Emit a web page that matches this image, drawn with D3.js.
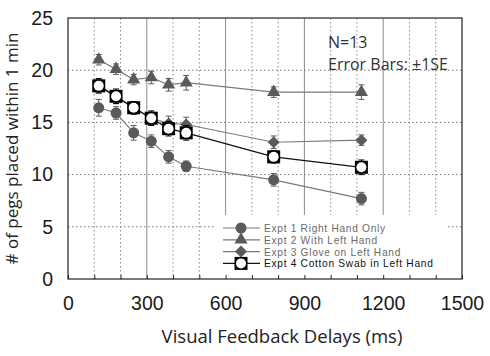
<!DOCTYPE html>
<html>
<head>
<meta charset="utf-8">
<script src="https://cdn.jsdelivr.net/npm/d3@7"></script>
<style>
  html, body { margin: 0; padding: 0; background: #fff; }
  svg { display: block; font-family: "Open Sans", "DejaVu Sans", sans-serif; }
</style>
</head>
<body>
<div id="chart"></div>
<script>
// Pegs placed within 1 min vs visual feedback delay, four experiments, ±1SE bars.
const delays = [117, 183, 250, 317, 383, 450, 783, 1117];
const expt1 = [16.4, 15.9, 14.0, 13.2, 11.7, 10.8, 9.5, 7.7];
const expt2 = [21.0, 20.1, 19.1, 19.3, 18.6, 18.8, 17.9, 17.9];
const expt3 = [18.5, 17.4, 16.4, 15.4, 14.9, 14.8, 13.1, 13.3];
const expt4 = [18.5, 17.5, 16.4, 15.4, 14.4, 14.0, 11.7, 10.7];
const se1 = [0.8, 0.6, 0.7, 0.6, 0.6, 0.5, 0.6, 0.6];
const se2 = [0.5, 0.5, 0.5, 0.6, 0.6, 0.7, 0.5, 0.7];
const se3 = [0.6, 0.6, 0.6, 0.6, 0.7, 0.7, 0.6, 0.5];
const se4 = [0.7, 0.7, 0.6, 0.7, 0.7, 0.7, 0.6, 0.7];
const seriesNames = ["Expt 1 Right Hand Only", "Expt 2 With Left Hand", "Expt 3 Glove on Left Hand", "Expt 4 Cotton Swab in Left Hand"];
const xTicks = [0, 300, 600, 900, 1200, 1500];
const yTicks = [0, 5, 10, 15, 20, 25];

const W = 490, H = 356;
const margin = { top: 18, right: 28, bottom: 77, left: 68 };

const svg = d3.select("#chart").append("svg").attr("width", W).attr("height", H);

const x = d3.scaleLinear().domain([0, 1500]).range([margin.left, W - margin.right]);
const y = d3.scaleLinear().domain([0, 25]).range([H - margin.bottom, margin.top]);

const series = [
  { name: seriesNames[0], vals: expt1, se: se1, shape: "circle", line: "#7a7a7a", fill: "#5a5a5a", text: "#6a6a6a" },
  { name: seriesNames[1], vals: expt2, se: se2, shape: "triangle", line: "#7a7a7a", fill: "#5a5a5a", text: "#6a6a6a" },
  { name: seriesNames[2], vals: expt3, se: se3, shape: "diamond", line: "#7a7a7a", fill: "#5a5a5a", text: "#6a6a6a" },
  { name: seriesNames[3], vals: expt4, se: se4, shape: "square", line: "#111", fill: "#000", text: "#111" }
];

// Grid: dotted every 100 ms, solid at majors, dotted horizontals
const g = svg.append("g");
g.selectAll("line.minor").data(d3.range(100, 1500, 100).filter(v => v % 300 !== 0)).join("line")
  .attr("x1", d => x(d)).attr("x2", d => x(d))
  .attr("y1", y(25)).attr("y2", y(0))
  .attr("stroke", "#888").attr("stroke-width", 1).attr("stroke-dasharray", "1.5,2.5");
g.selectAll("line.major").data(xTicks.slice(1, -1)).join("line").attr("class", "major")
  .attr("x1", d => x(d)).attr("x2", d => x(d))
  .attr("y1", y(25)).attr("y2", y(0))
  .attr("stroke", "#8a8a8a").attr("stroke-width", 1);
g.selectAll("line.hgrid").data(yTicks.slice(1, -1)).join("line").attr("class", "hgrid")
  .attr("x1", x(0)).attr("x2", x(1500))
  .attr("y1", d => y(d)).attr("y2", d => y(d))
  .attr("stroke", "#777").attr("stroke-width", 1).attr("stroke-dasharray", "1.5,2.5");

// Legend background (covers grid)
const lg = { x: 215, y: 215, w: 233, h: 64, row: 11.8 };
svg.append("rect").attr("x", lg.x).attr("y", lg.y).attr("width", lg.w).attr("height", lg.h).attr("fill", "#fff");

// Axes
const xAxis = svg.append("g").attr("transform", `translate(0,${y(0)})`)
  .call(d3.axisBottom(x).tickValues(d3.range(0, 1501, 100)).tickSize(-4).tickFormat(""));
xAxis.select(".domain").remove();
xAxis.selectAll("line").attr("stroke", "#222");
svg.append("g").attr("transform", `translate(0,${y(0)})`)
  .call(d3.axisBottom(x).tickValues(xTicks).tickSize(0).tickPadding(17).tickFormat(d3.format("d")))
  .call(a => a.select(".domain").remove())
  .selectAll("text").attr("font-size", 19.5).attr("font-family", "'Liberation Sans', Arial, sans-serif").attr("fill", "#1a1a1a");
svg.append("g").attr("transform", `translate(${x(0)},0)`)
  .call(d3.axisLeft(y).tickValues(yTicks).tickSize(0).tickPadding(15))
  .call(a => a.select(".domain").remove())
  .selectAll("text").attr("font-size", 19.5).attr("font-family", "'Liberation Sans', Arial, sans-serif").attr("fill", "#1a1a1a");
svg.append("rect").attr("x", x(0)).attr("y", y(25)).attr("width", x(1500) - x(0)).attr("height", y(0) - y(25))
  .attr("fill", "none").attr("stroke", "#222").attr("stroke-width", 1.2);

// Axis titles
svg.append("text").attr("x", 282).attr("y", 343).attr("text-anchor", "middle")
  .attr("font-size", 18.5).attr("fill", "#222").text("Visual Feedback Delays (ms)");
svg.append("text").attr("transform", `translate(18,${(y(0) + y(25)) / 2}) rotate(-90)`)
  .attr("text-anchor", "middle").attr("font-size", 17).attr("fill", "#222").text("# of pegs placed within 1 min");

// Annotations
svg.append("text").attr("x", 328).attr("y", 48).attr("font-size", 16).attr("fill", "#333").text("N=13");
svg.append("text").attr("x", 328).attr("y", 70).attr("font-size", 16).attr("fill", "#333").text("Error Bars: ±1SE");

function marker(sel, s) {
  if (s.shape === "circle") {
    sel.append("circle").attr("r", 5.5).attr("fill", s.fill);
  } else if (s.shape === "triangle") {
    sel.append("path").attr("d", d3.symbol(d3.symbolTriangle, 75)()).attr("fill", s.fill);
  } else if (s.shape === "diamond") {
    sel.append("path").attr("d", "M0,-6L6,0L0,6L-6,0Z").attr("fill", s.fill);
  } else {
    sel.append("rect").attr("x", -6.5).attr("y", -6.5).attr("width", 13).attr("height", 13).attr("fill", "#000");
    sel.append("circle").attr("r", 5).attr("fill", "#fff");
  }
}

const line = d3.line().x(d => x(d[0])).y(d => y(d[1]));
const plot = svg.append("g");
[1, 2, 0, 3].forEach(i => {
  const s = series[i];
  const pts = delays.map((d, k) => [d, s.vals[k], s.se[k]]);
  const sg = plot.append("g");
  sg.append("path").datum(pts).attr("d", line).attr("fill", "none")
    .attr("stroke", s.line).attr("stroke-width", i === 3 ? 1.3 : 1.2);
  const eb = sg.selectAll("g.eb").data(pts).join("g").attr("class", "eb");
  eb.append("line").attr("x1", d => x(d[0])).attr("x2", d => x(d[0]))
    .attr("y1", d => y(d[1] - d[2])).attr("y2", d => y(d[1] + d[2])).attr("stroke", s.fill).attr("stroke-width", 1);
  [-1, 1].forEach(sign => eb.append("line")
    .attr("x1", d => x(d[0]) - 3).attr("x2", d => x(d[0]) + 3)
    .attr("y1", d => y(d[1] + sign * d[2])).attr("y2", d => y(d[1] + sign * d[2]))
    .attr("stroke", s.fill).attr("stroke-width", 1));
  sg.selectAll("g.mk").data(pts).join("g").attr("class", "mk")
    .attr("transform", d => `translate(${x(d[0])},${y(d[1])})`)
    .each(function() { marker(d3.select(this), s); });
});

// Legend
series.forEach((s, i) => {
  const ly = 228 + i * lg.row;
  const row = svg.append("g");
  row.append("line").attr("x1", 223).attr("x2", 260).attr("y1", ly).attr("y2", ly)
    .attr("stroke", s.line).attr("stroke-width", 1.2);
  const m = row.append("g").attr("transform", `translate(241,${ly})`);
  marker(m, s);
  row.append("text").attr("x", 264).attr("y", ly + 4).attr("font-size", 10.2)
    .attr("letter-spacing", 0.7)
    .attr("font-family", "'Liberation Sans', Arial, sans-serif")
    .attr("fill", s.text).text(s.name);
});
</script>
</body>
</html>
